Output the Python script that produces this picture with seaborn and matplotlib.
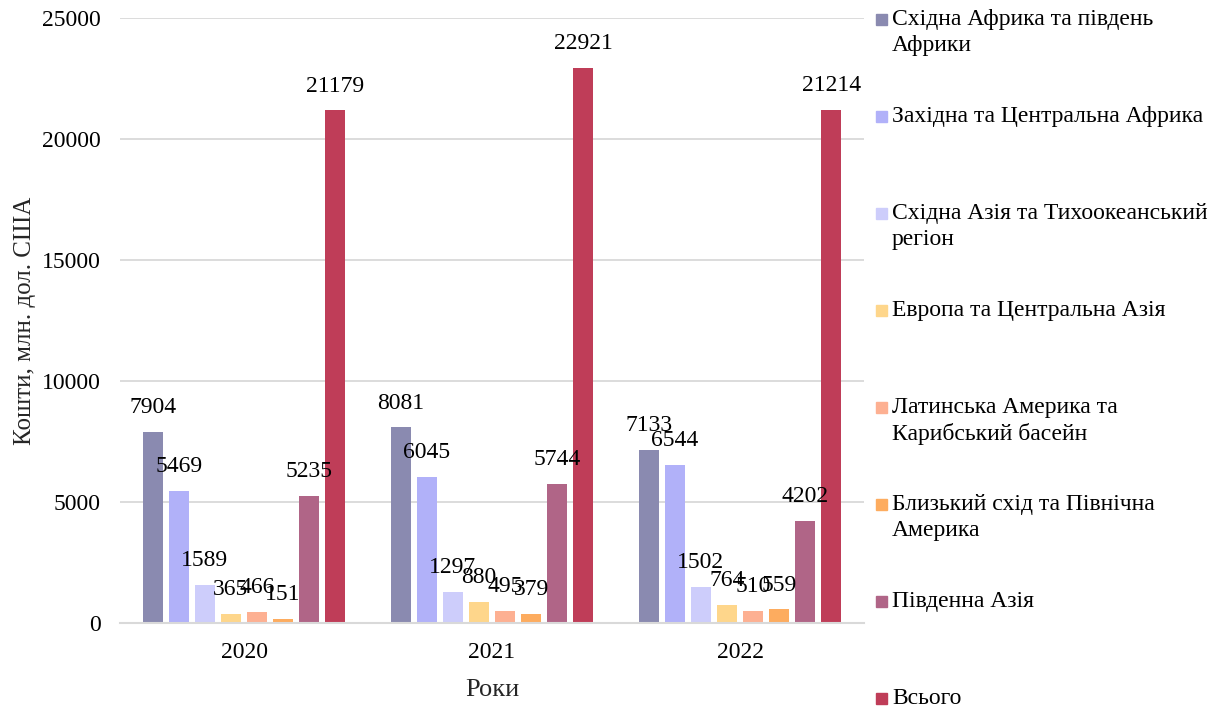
import matplotlib
matplotlib.use("Agg")
import matplotlib.pyplot as plt
import seaborn as sns
import pandas as pd
from matplotlib.patches import Rectangle

years = ["2020", "2021", "2022"]
regions = [
    "Східна Африка та південь\nАфрики",
    "Західна та Центральна Африка",
    "Східна Азія та Тихоокеанський\nрегіон",
    "Европа та Центральна Азія",
    "Латинська Америка та\nКарибський басейн",
    "Близький схід та Північна\nАмерика",
    "Південна Азія",
    "Всього",
]
values_2020 = [7904, 5469, 1589, 365, 466, 151, 5235, 21179]
values_2021 = [8081, 6045, 1297, 880, 495, 379, 5744, 22921]
values_2022 = [7133, 6544, 1502, 764, 510, 559, 4202, 21214]
colors = ["#8a8ab0", "#b1b1f9", "#cdcdfb", "#fed68b", "#fdb092", "#fdac5f", "#b06587", "#bf3d58"]
y_ticks = [0, 5000, 10000, 15000, 20000, 25000]

rows = []
for yr, vals in zip(years, [values_2020, values_2021, values_2022]):
    for r, v in zip(regions, vals):
        rows.append({"Рік": yr, "Регіон": r, "Значення": v})
df = pd.DataFrame(rows)

sns.set_theme(style="white")
plt.rcParams["font.family"] = ["Liberation Serif", "DejaVu Serif"]

fig = plt.figure(figsize=(12.3, 7.08), dpi=100)
ax = fig.add_axes([120 / 1230, 1 - 623 / 708, (864 - 120) / 1230, (623 - 18) / 708])

sns.barplot(data=df, x="Рік", y="Значення", hue="Регіон", hue_order=regions,
            order=years, palette=colors, saturation=1, width=0.84, gap=0.23,
            legend=False, ax=ax, edgecolor="none", linewidth=0)

for cont in ax.containers:
    ax.bar_label(cont, fmt="%d", padding=10, fontsize=17, color="black")

ax.set_ylim(0, 25000)
ax.set_xlim(-0.5, 2.5)
ax.set_yticks(y_ticks)
ax.yaxis.grid(True, color="#d9d9d9", linewidth=1.3)
ax.set_axisbelow(True)
for s in ["top", "right", "left"]:
    ax.spines[s].set_visible(False)
ax.spines["bottom"].set_color("#d9d9d9")
ax.spines["bottom"].set_linewidth(1.5)
ax.tick_params(axis="both", length=0, labelsize=17, colors="black")
ax.tick_params(axis="x", pad=14)
ax.tick_params(axis="y", pad=14)
ax.set_xlabel("Роки", fontsize=19, labelpad=11)
ax.set_ylabel("Кошти, млн. дол. США", fontsize=18, labelpad=4)

# legend
for i, (name, col) in enumerate(zip(regions, colors)):
    yc = 20 + 97 * i
    fig.patches.append(Rectangle((876 / 1230, 1 - (yc + 5) / 708), 11 / 1230, 11 / 708,
                                 transform=fig.transFigure, color=col, figure=fig))
    fig.text(892 / 1230, 1 - (yc - 11) / 708, name, fontsize=17, va="top", ha="left",
             linespacing=1.32, color="black")

fig.savefig("out.png", dpi=100)
